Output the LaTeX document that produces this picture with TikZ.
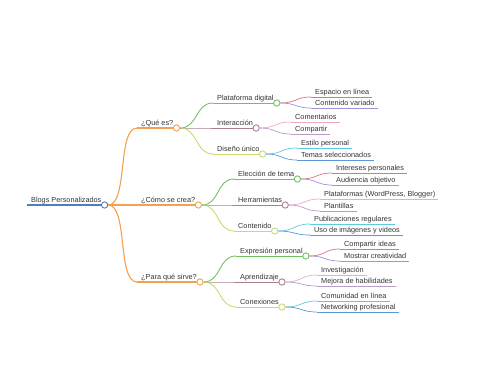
\documentclass[tikz,border=0pt]{standalone}
\usepackage{fontspec}
\setmainfont{Liberation Sans}
\definecolor{rootc}{HTML}{4A80BE}
\definecolor{orc}{HTML}{F5A04F}
\definecolor{grn}{HTML}{72C060}
\definecolor{mau}{HTML}{A8808F}
\definecolor{ylg}{HTML}{C8DA70}
\definecolor{redc}{HTML}{E8707F}
\definecolor{purc}{HTML}{A090E0}
\definecolor{pnk}{HTML}{F0A8C8}
\definecolor{mvc}{HTML}{B89CC8}
\definecolor{cyn}{HTML}{5CCBE0}
\definecolor{bluc}{HTML}{5B98D8}
\definecolor{txt}{HTML}{333333}
\tikzset{
  lbl/.style={anchor=base west, inner sep=0pt, text=txt, font=\fontsize{7.3}{8}\selectfont},
  dot/.style={circle, draw=#1, fill=white, line width=0.9pt, inner sep=0pt, minimum size=6.3pt},
}
% #1 name, #2 colour, #3 start x, #4 line y, #5 text, #6 line width
\newcommand\mmnode[6]{%
  \coordinate (#1s) at (#3,#4);
  \node[lbl] (#1t) at (#3+4,#4-2.5) {#5};
  \draw[#2, line width=#6] (#1s) -- ([xshift=3pt]#1t.east |- #1s) coordinate (#1e);
}
\newcommand\mmdot[2]{\node[dot=#2] (#1) at (#1e) {};}
% #1 parent, #2 child, #3 colour, #4 width, #5 handle
\newcommand\mmlink[5]{%
  \draw[#3, line width=#4] (#1.east) .. controls +(#5,0) and +(-#5,0) .. (#2s);
}
\begin{document}
\begin{tikzpicture}[x=1pt,y=-1pt]
\useasboundingbox (0,0) rectangle (480,384);
% root
\mmnode{R}{rootc}{27}{205}{Blogs Personalizados}{1.2pt}
% level 1
\mmnode{Q1}{orc}{137}{128}{¿Qué es?}{1.1pt}
\mmnode{Q2}{orc}{137}{205}{¿Cómo se crea?}{1.1pt}
\mmnode{Q3}{orc}{137}{282}{¿Para qué sirve?}{1.1pt}
% level 2
\mmnode{A1}{grn}{213}{103}{Plataforma digital}{0.9pt}
\mmnode{A2}{mau}{213}{128}{Interacción}{0.9pt}
\mmnode{A3}{ylg}{213}{154}{Diseño único}{0.9pt}
\mmnode{B1}{grn}{234}{179}{Elección de tema}{0.9pt}
\mmnode{B2}{mau}{234}{205}{Herramientas}{0.9pt}
\mmnode{B3}{ylg}{234}{231}{Contenido}{0.9pt}
\mmnode{C1}{grn}{236}{256}{Expresión personal}{0.9pt}
\mmnode{C2}{mau}{236}{282}{Aprendizaje}{0.9pt}
\mmnode{C3}{ylg}{236}{307}{Conexiones}{0.9pt}
% leaves
\mmnode{a1}{redc}{311}{97}{Espacio en línea}{0.7pt}
\mmnode{a2}{purc}{311}{108}{Contenido variado}{0.7pt}
\mmnode{a3}{pnk}{291}{122}{Comentarios}{0.7pt}
\mmnode{a4}{mvc}{291}{134}{Compartir}{0.7pt}
\mmnode{a5}{cyn}{297}{148}{Estilo personal}{0.7pt}
\mmnode{a6}{bluc}{297}{160}{Temas seleccionados}{0.7pt}
\mmnode{b1}{redc}{332}{173}{Intereses personales}{0.7pt}
\mmnode{b2}{purc}{332}{185}{Audiencia objetivo}{0.7pt}
\mmnode{b3}{pnk}{320}{199}{Plataformas (WordPress, Blogger)}{0.7pt}
\mmnode{b4}{mvc}{320}{211}{Plantillas}{0.7pt}
\mmnode{b5}{cyn}{310}{224}{Publicaciones regulares}{0.7pt}
\mmnode{b6}{bluc}{310}{235}{Uso de imágenes y videos}{0.7pt}
\mmnode{c1}{redc}{340}{249}{Compartir ideas}{0.7pt}
\mmnode{c2}{purc}{340}{261}{Mostrar creatividad}{0.7pt}
\mmnode{c3}{pnk}{317}{275}{Investigación}{0.7pt}
\mmnode{c4}{mvc}{317}{286}{Mejora de habilidades}{0.7pt}
\mmnode{c5}{cyn}{317}{301}{Comunidad en línea}{0.7pt}
\mmnode{c6}{bluc}{317}{312}{Networking profesional}{0.7pt}
% dots
\mmdot{R}{rootc}
\mmdot{Q1}{orc}\mmdot{Q2}{orc}\mmdot{Q3}{orc}
\mmdot{A1}{grn}\mmdot{A2}{mau}\mmdot{A3}{ylg}
\mmdot{B1}{grn}\mmdot{B2}{mau}\mmdot{B3}{ylg}
\mmdot{C1}{grn}\mmdot{C2}{mau}\mmdot{C3}{ylg}
% links
\mmlink{R}{Q1}{orc}{1.1pt}{20}
\mmlink{R}{Q2}{orc}{1.1pt}{20}
\mmlink{R}{Q3}{orc}{1.1pt}{20}
\mmlink{Q1}{A1}{grn}{0.9pt}{18}
\mmlink{Q1}{A2}{mau}{0.9pt}{18}
\mmlink{Q1}{A3}{ylg}{0.9pt}{18}
\mmlink{Q2}{B1}{grn}{0.9pt}{18}
\mmlink{Q2}{B2}{mau}{0.9pt}{18}
\mmlink{Q2}{B3}{ylg}{0.9pt}{18}
\mmlink{Q3}{C1}{grn}{0.9pt}{18}
\mmlink{Q3}{C2}{mau}{0.9pt}{18}
\mmlink{Q3}{C3}{ylg}{0.9pt}{18}
\mmlink{A1}{a1}{redc}{0.7pt}{16}
\mmlink{A1}{a2}{purc}{0.7pt}{16}
\mmlink{A2}{a3}{pnk}{0.7pt}{16}
\mmlink{A2}{a4}{mvc}{0.7pt}{16}
\mmlink{A3}{a5}{cyn}{0.7pt}{16}
\mmlink{A3}{a6}{bluc}{0.7pt}{16}
\mmlink{B1}{b1}{redc}{0.7pt}{16}
\mmlink{B1}{b2}{purc}{0.7pt}{16}
\mmlink{B2}{b3}{pnk}{0.7pt}{16}
\mmlink{B2}{b4}{mvc}{0.7pt}{16}
\mmlink{B3}{b5}{cyn}{0.7pt}{16}
\mmlink{B3}{b6}{bluc}{0.7pt}{16}
\mmlink{C1}{c1}{redc}{0.7pt}{16}
\mmlink{C1}{c2}{purc}{0.7pt}{16}
\mmlink{C2}{c3}{pnk}{0.7pt}{16}
\mmlink{C2}{c4}{mvc}{0.7pt}{16}
\mmlink{C3}{c5}{cyn}{0.7pt}{16}
\mmlink{C3}{c6}{bluc}{0.7pt}{16}
\end{tikzpicture}
\end{document}
